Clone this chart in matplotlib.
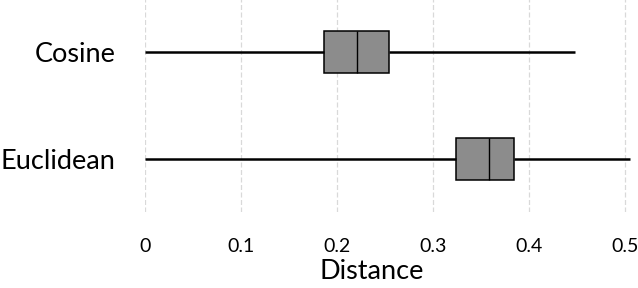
import matplotlib
matplotlib.use("Agg")
import matplotlib.pyplot as plt

plt.rcParams["font.family"] = ["Lato", "DejaVu Sans"]

# box-plot statistics
labels = ["Cosine", "Euclidean"]
whislo = [0.0, 0.0]
q1 = [0.186, 0.324]
med = [0.221, 0.358]
q3 = [0.254, 0.384]
whishi = [0.448, 0.505]
xticks = [0, 0.1, 0.2, 0.3, 0.4, 0.5]

stats = [dict(label=l, whislo=a, q1=b, med=c, q3=d, whishi=e)
         for l, a, b, c, d, e in zip(labels, whislo, q1, med, q3, whishi)]

fig = plt.figure(figsize=(6.38, 2.88), dpi=100)
ax = fig.add_axes([145 / 638, 1 - 212 / 288, 480 / 638 * 1.02, 213 / 288])

ax.bxp(stats, positions=[0, 1], vert=False, widths=0.39, patch_artist=True,
       showcaps=False, showfliers=False,
       boxprops=dict(facecolor="#8c8c8c", edgecolor="black", lw=1.1),
       medianprops=dict(color="black", lw=1.0),
       whiskerprops=dict(color="black", lw=1.8, solid_capstyle="butt"))

ax.set_xlim(0, 0.51)
ax.set_ylim(1.5, -0.5)
ax.set_xticks(xticks)
ax.set_xticklabels([f"{t:g}" for t in xticks], fontsize=14)
ax.set_yticks([0, 1])
ax.set_yticklabels(labels, fontsize=19.5)
ax.tick_params(axis="both", length=0)
ax.tick_params(axis="x", pad=19)
ax.tick_params(axis="y", pad=21)
ax.grid(axis="x", color="#d9d9d9", lw=0.9, ls=(0, (4, 2)))
ax.set_axisbelow(True)
for s in ax.spines.values():
    s.set_visible(False)

ax.set_xlabel("Distance", fontsize=19.5)
ax.xaxis.set_label_coords(0.462, -0.22)

fig.savefig("out.png", dpi=100, facecolor="white")
